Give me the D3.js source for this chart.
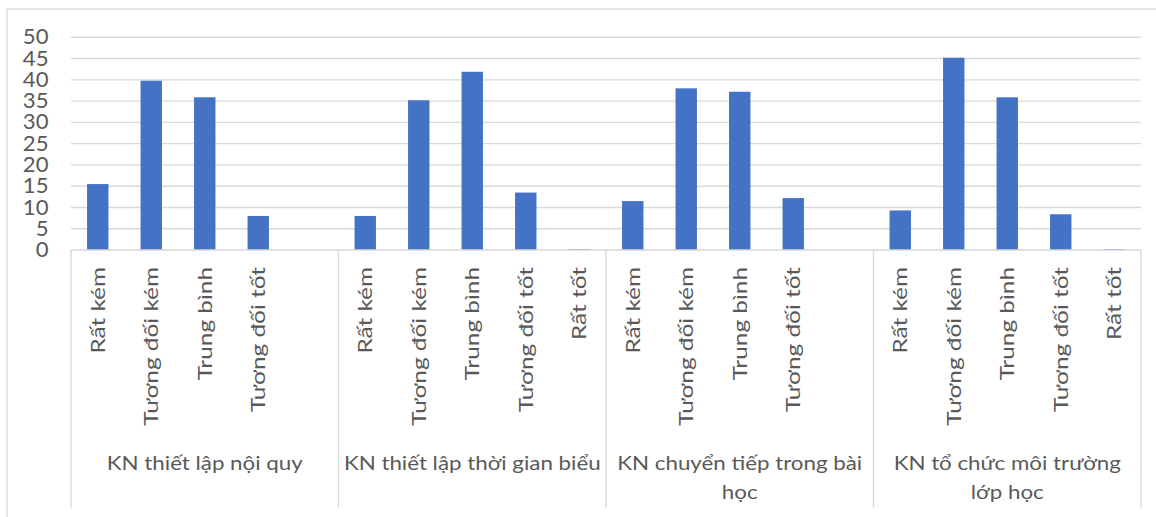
<!DOCTYPE html>
<html>
<head>
<meta charset="utf-8">
<script src="https://cdn.jsdelivr.net/npm/d3@7"></script>
<style>
  html, body { margin: 0; padding: 0; background: #fff; }
  svg { display: block; font-family: Lato, "Open Sans", sans-serif; }
</style>
</head>
<body>
<svg id="chart" width="1156" height="517"></svg>
<script>
// Skill groups and the rating levels shown under each
const groups = [
  "KN thiết lập nội quy",
  "KN thiết lập thời gian biểu",
  "KN chuyển tiếp trong bài học",
  "KN tổ chức môi trường lớp học"
];

// Level labels per group (a blank slot keeps the spacing)
const groupLevels = [
  ["Rất kém", "Tương đối kém", "Trung bình", "Tương đối tốt", ""],
  ["Rất kém", "Tương đối kém", "Trung bình", "Tương đối tốt", "Rất tốt"],
  ["Rất kém", "Tương đối kém", "Trung bình", "Tương đối tốt", ""],
  ["Rất kém", "Tương đối kém", "Trung bình", "Tương đối tốt", "Rất tốt"]
];

// Percentages per group, in level order (null = no bar)
const values = [
  [15.5, 39.8, 35.9, 8.0, null],
  [8.0, 35.2, 41.9, 13.5, 0.2],
  [11.5, 38.0, 37.2, 12.2, null],
  [9.3, 45.2, 35.9, 8.4, 0.2]
];

const yTicks = [0, 5, 10, 15, 20, 25, 30, 35, 40, 45, 50];

const svg = d3.select("#chart");
const plot = { left: 71, right: 1141, top: 37.3, bottom: 250, axisBottom: 507.5 };
const textColor = "#595959";
const lineColor = "#d9d9d9";

// Outer chart frame
svg.append("rect")
  .attr("x", 7).attr("y", 9)
  .attr("width", 1160).attr("height", 520)
  .attr("fill", "none").attr("stroke", lineColor).attr("stroke-width", 1.3);

// One slot per (group, level)
const slots = [];
groups.forEach((g, gi) => {
  groupLevels[gi].forEach((lv, li) => {
    slots.push({ key: gi + "-" + li, group: gi, label: lv, value: values[gi][li] });
  });
});

const x = d3.scaleBand()
  .domain(slots.map(d => d.key))
  .range([plot.left, plot.right]);
const xCenter = d => x(d.key) + x.bandwidth() / 2;
const barW = x.bandwidth() * 0.4;

const y = d3.scaleLinear().domain([0, 50]).range([plot.bottom, plot.top]);

// Gridlines
svg.append("g")
  .selectAll("line")
  .data(yTicks.filter(t => t > 0))
  .join("line")
  .attr("x1", plot.left).attr("x2", plot.right)
  .attr("y1", d => y(d)).attr("y2", d => y(d))
  .attr("stroke", lineColor).attr("stroke-width", 1.4);

// Value axis labels
const yAxis = d3.axisLeft(y).tickValues(yTicks).tickSize(0).tickPadding(0);
const yg = svg.append("g").attr("transform", "translate(48.5,0)").call(yAxis);
yg.select(".domain").remove();
yg.selectAll("text")
  .attr("fill", textColor)
  .attr("transform", "scale(1.08,1)")
  .style("font-size", "20.5px")
  .style("font-family", "Lato, 'Open Sans', sans-serif");

// Bars
svg.append("g")
  .selectAll("rect")
  .data(slots.filter(d => d.value != null))
  .join("rect")
  .attr("x", d => xCenter(d) - barW / 2)
  .attr("width", barW)
  .attr("y", d => y(d.value))
  .attr("height", d => y(0) - y(d.value))
  .attr("fill", "#4472c4");

// Category axis line and group separators
svg.append("line")
  .attr("x1", plot.left).attr("x2", plot.right)
  .attr("y1", plot.bottom).attr("y2", plot.bottom)
  .attr("stroke", lineColor).attr("stroke-width", 1.4);

const groupW = (plot.right - plot.left) / groups.length;
const bounds = d3.range(groups.length + 1).map(i => plot.left + i * groupW);
svg.append("g")
  .selectAll("line")
  .data(bounds)
  .join("line")
  .attr("x1", d => d).attr("x2", d => d)
  .attr("y1", plot.bottom).attr("y2", plot.axisBottom)
  .attr("stroke", lineColor).attr("stroke-width", 1.4);

// Rotated level labels, slightly widened along the text direction
const levelStretch = 1.25;
svg.append("g")
  .selectAll("text")
  .data(slots.filter(d => d.label))
  .join("text")
  .attr("transform", d => `translate(${xCenter(d)},267) rotate(-90) scale(${levelStretch},1)`)
  .attr("text-anchor", "end")
  .attr("dy", "0.36em")
  .attr("fill", textColor)
  .style("font-size", "19.5px")
  .text(d => d.label);

// Group labels, wrapped to the group width
const groupStretch = 1.2;
const groupFont = 18.6;
const gl = svg.append("g");
groups.forEach((g, gi) => {
  const cx = plot.left + groupW * (gi + 0.5);
  const maxW = (groupW - 6) / groupStretch;
  const t = gl.append("text")
    .attr("transform", `translate(${cx},470) scale(${groupStretch},1)`)
    .attr("text-anchor", "middle")
    .attr("fill", textColor)
    .style("font-size", groupFont + "px");
  const words = g.split(" ");
  let line = [];
  let tspan = t.append("tspan").attr("x", 0).attr("y", 0);
  let lineNo = 0;
  words.forEach(w => {
    line.push(w);
    tspan.text(line.join(" "));
    if (tspan.node().getComputedTextLength() > maxW && line.length > 1) {
      line.pop();
      tspan.text(line.join(" "));
      line = [w];
      lineNo++;
      tspan = t.append("tspan").attr("x", 0).attr("y", lineNo * 29).text(w);
    }
  });
});
</script>
</body>
</html>
